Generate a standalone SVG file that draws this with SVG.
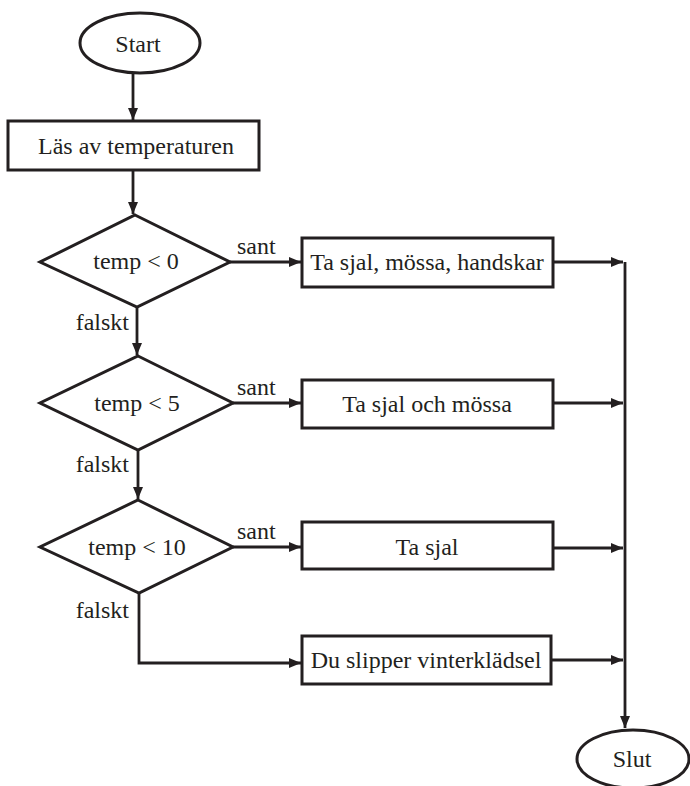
<svg xmlns="http://www.w3.org/2000/svg" width="690" height="786" viewBox="0 0 690 786">
<style>
.s{fill:#fff;stroke:#231f20;stroke-width:3}
.c{fill:none;stroke:#231f20;stroke-width:2.8}
.t{font-family:"Liberation Serif","DejaVu Serif",serif;font-size:24px;fill:#231f20;text-anchor:middle}
.l{font-family:"Liberation Serif","DejaVu Serif",serif;font-size:24px;fill:#231f20}
</style>
<defs>
<marker id="a" viewBox="0 0 12 10" refX="12" refY="5" markerWidth="12" markerHeight="10" markerUnits="userSpaceOnUse" orient="auto">
<path d="M0,0 L12,5 L0,10 Z" fill="#231f20"/>
</marker>
</defs>
<rect width="690" height="786" fill="#fff"/>
<g id="connectors">
<path class="c" d="M133,73 V120" marker-end="url(#a)"/>
<path class="c" d="M133,170 V214" marker-end="url(#a)"/>
<path class="c" d="M230,262 H301" marker-end="url(#a)"/>
<path class="c" d="M137,307 V355" marker-end="url(#a)"/>
<path class="c" d="M233,403 H301" marker-end="url(#a)"/>
<path class="c" d="M138,450 V499" marker-end="url(#a)"/>
<path class="c" d="M233,547 H301" marker-end="url(#a)"/>
<path class="c" d="M139,593 V663 H301" marker-end="url(#a)"/>
<path class="c" d="M553,262 H623" marker-end="url(#a)"/>
<path class="c" d="M553,403 H623" marker-end="url(#a)"/>
<path class="c" d="M550,548 H623" marker-end="url(#a)"/>
<path class="c" d="M551,660 H623" marker-end="url(#a)"/>
<path class="c" d="M625,262 V728" marker-end="url(#a)"/>
<text class="l" x="237" y="254">sant</text>
<text class="l" x="237" y="395">sant</text>
<text class="l" x="237" y="539">sant</text>
<text class="l" x="129" y="330" text-anchor="end">falskt</text>
<text class="l" x="129" y="472" text-anchor="end">falskt</text>
<text class="l" x="129" y="618" text-anchor="end">falskt</text>
</g>
<g id="start">
<ellipse class="s" cx="140" cy="43" rx="60" ry="30"/>
<text class="t" x="138" y="52">Start</text>
</g>
<g id="read">
<rect class="s" x="8" y="121" width="251" height="49"/>
<text class="t" x="136" y="154">Läs av temperaturen</text>
</g>
<g id="d1">
<polygon class="s" points="135,215 230,262 137,307 40,262"/>
<text class="t" x="136" y="269">temp &lt; 0</text>
</g>
<g id="d2">
<polygon class="s" points="138,356 233,403 138,450 40,403"/>
<text class="t" x="137" y="411">temp &lt; 5</text>
</g>
<g id="d3">
<polygon class="s" points="138,500 233,547 139,593 40,547"/>
<text class="t" x="137" y="555">temp &lt; 10</text>
</g>
<g id="r1">
<rect class="s" x="302" y="238" width="251" height="49"/>
<text class="t" x="427" y="270">Ta sjal, mössa, handskar</text>
</g>
<g id="r2">
<rect class="s" x="302" y="380" width="251" height="48"/>
<text class="t" x="427" y="412">Ta sjal och mössa</text>
</g>
<g id="r3">
<rect class="s" x="302" y="522" width="251" height="47"/>
<text class="t" x="427" y="555">Ta sjal</text>
</g>
<g id="r4">
<rect class="s" x="302" y="636" width="249" height="48"/>
<text class="t" x="426" y="668">Du slipper vinterklädsel</text>
</g>
<g id="end">
<ellipse class="s" cx="633" cy="759" rx="56" ry="29"/>
<text class="t" x="632" y="767">Slut</text>
</g>
</svg>
